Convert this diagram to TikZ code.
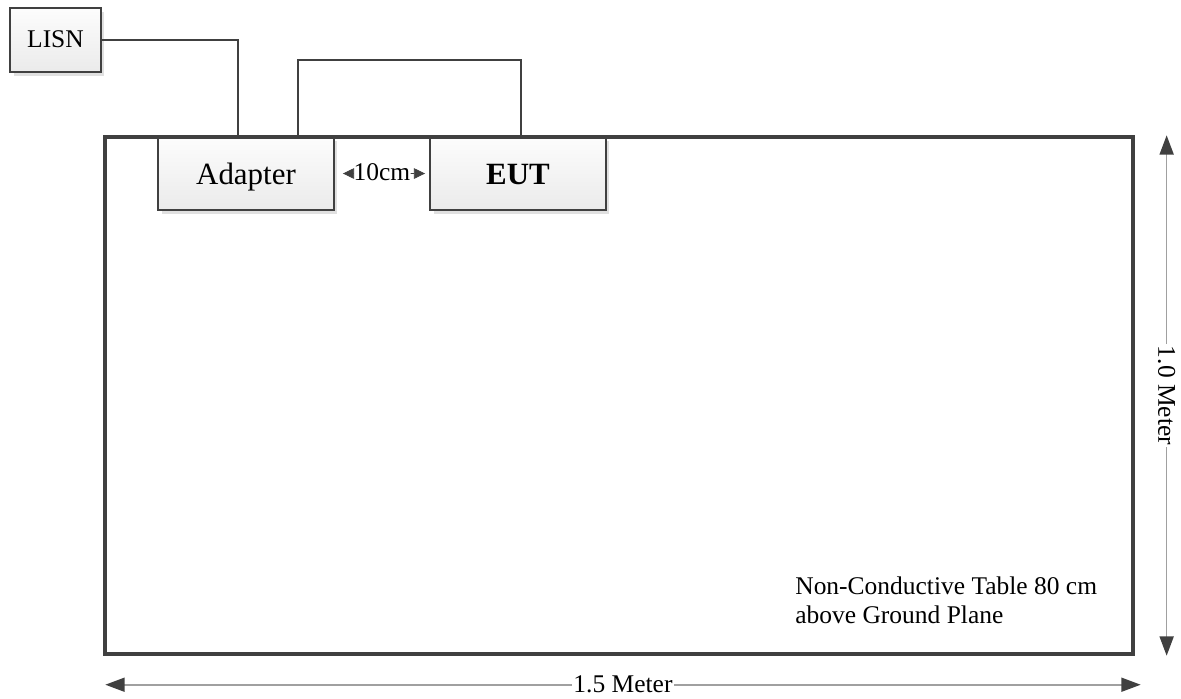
\documentclass[tikz,border=0pt]{standalone}
\usepackage{fontspec}
\setmainfont{Liberation Serif}
\usepackage{xcolor}
\usepackage{tikz}
\usetikzlibrary{calc}
\usetikzlibrary{arrows.meta,shadows}

\definecolor{darkline}{HTML}{404040}
\definecolor{dimgray}{HTML}{A0A0A0}

\tikzset{
  unit/.style={draw=darkline, line width=1.1pt, top color=gray!2, bottom color=gray!16,
    drop shadow={shadow xshift=0.07cm, shadow yshift=-0.07cm, fill=black!12, opacity=1},
    inner sep=0pt, text depth=0pt},
  wire/.style={draw=darkline, line width=1.1pt},
  dimline/.style={draw=dimgray, line width=0.9pt,
    {Triangle[length=11pt,width=8pt,color=darkline]}-{Triangle[length=11pt,width=8pt,color=darkline]}},
  gaptip/.style={draw=darkline, line width=0.4pt, -{Triangle[length=6.3pt,width=6pt]}},
  bigfont/.style={font=\fontsize{17.6}{21}\selectfont},
  smallfont/.style={font=\fontsize{14.5}{16.5}\selectfont},
}

\begin{document}
\begin{tikzpicture}[x=0.02cm,y=-0.02cm]
\useasboundingbox (0,0) rectangle (1181,698);

% Units
\node[unit, bigfont, text height=12pt, minimum width=3.52cm, minimum height=1.46cm] (adapter) at (246,173.5) {Adapter};
\node[unit, bigfont, text height=12pt, minimum width=3.52cm, minimum height=1.46cm] (eut) at (518,173.5) {\textbf{EUT}};
\node[unit, smallfont, text height=9pt, minimum width=1.82cm, minimum height=1.28cm] (lisn) at (55.5,40) {LISN};

% Table
\node[draw=darkline, line width=2pt, minimum width=20.56cm, minimum height=10.34cm, inner sep=0pt] (table) at (619,395.5) {};
\node[smallfont, align=left, anchor=north west, inner sep=0pt] (note) at (795,576) {Non-Conductive Table 80 cm\\above Ground Plane};

% Cables
\draw[wire] (lisn.east) -| ([xshift=-0.16cm]adapter.north);
\draw[wire] ([xshift=1.04cm]adapter.north) -- ++(0,-76) -| ([xshift=0.06cm]eut.north);

% Spacing between units
\node[smallfont, inner sep=0pt, text height=7.6pt, text depth=0pt] (gap) at ($(adapter.east)!0.5!(eut.west)$) {10cm};
\draw[gaptip, shorten >=0.16cm] (gap.west) -- (adapter.east);
\draw[gaptip, shorten >=0.08cm] (gap.east) -- (eut.west);

% Dimensions
\draw[dimline] ([xshift=0.64cm]table.north east) -- node[fill=white, smallfont, rotate=-90, inner sep=1pt] (height) {1.0 Meter} ([xshift=0.64cm]table.south east);
\draw[dimline] ([shift={(0.04cm,-0.58cm)}]table.south west) -- node[fill=white, smallfont, inner sep=1pt] (width) {1.5 Meter} ([shift={(0.12cm,-0.58cm)}]table.south east);
\end{tikzpicture}
\end{document}
